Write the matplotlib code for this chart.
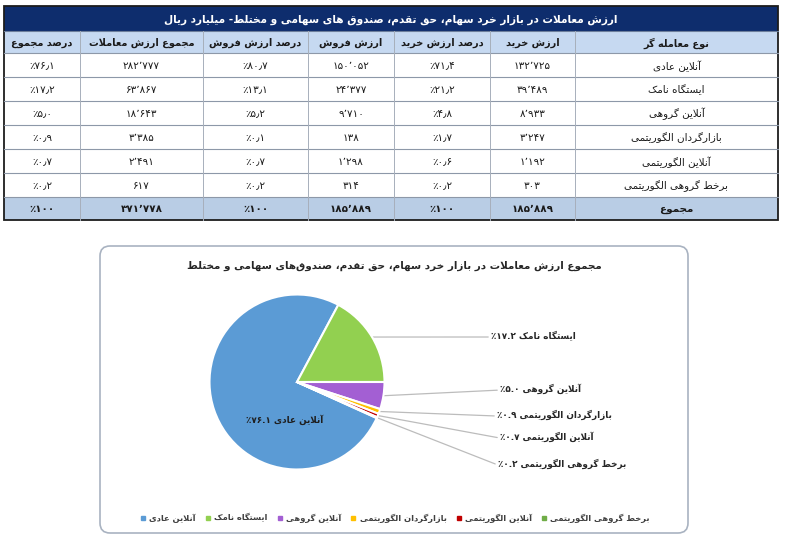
import numpy as np
import matplotlib
matplotlib.use('Agg')
import matplotlib.pyplot as plt
from matplotlib.patches import Rectangle, FancyBboxPatch
from matplotlib.lines import Line2D

plt.rcParams['font.family'] = ['DejaVu Sans']

# ---------------- data ----------------
table_title = 'ارزش معاملات در بازار خرد سهام، حق تقدم، صندوق های سهامی و مختلط- میلیارد ریال'
pie_title = 'مجموع ارزش معاملات در بازار خرد سهام، حق تقدم، صندوق\u200cهای سهامی و مختلط'

headers = ['نوع معامله گر', 'ارزش خرید', 'درصد ارزش خرید', 'ارزش فروش',
           'درصد ارزش فروش', 'مجموع ارزش معاملات', 'درصد مجموع']
names = ['آنلاین عادی', 'ایستگاه نامک', 'آنلاین گروهی', 'بازارگردان الگوریتمی',
         'آنلاین الگوریتمی', 'برخط گروهی الگوریتمی']
total_label = 'مجموع'

buy_val = [132725, 39489, 8933, 3247, 1192, 303]
buy_pct = [71.4, 21.2, 4.8, 1.7, 0.6, 0.2]
sell_val = [150052, 24377, 9710, 138, 1298, 314]
sell_pct = [80.7, 13.1, 5.2, 0.1, 0.7, 0.2]
total_val = [282777, 63867, 18643, 3385, 2491, 617]
total_pct = [76.1, 17.2, 5.0, 0.9, 0.7, 0.2]
sum_row = [185889, 100, 185889, 100, 371778, 100]   # buy, %, sell, %, total, %

pie_colors = ['#5b9bd5', '#92d050', '#a35fd3', '#ffc000', '#c00000', '#70ad47']

# ---------------- persian shaping (no bidi lib available) ----------------
FORMS = {
    'ء': ('\uFE80',),
    'آ': ('\uFE81', '\uFE82'), 'أ': ('\uFE83', '\uFE84'), 'ؤ': ('\uFE85', '\uFE86'),
    'إ': ('\uFE87', '\uFE88'), 'ئ': ('\uFE89', '\uFE8A', '\uFE8B', '\uFE8C'),
    'ا': ('\uFE8D', '\uFE8E'), 'ب': ('\uFE8F', '\uFE90', '\uFE91', '\uFE92'),
    'ة': ('\uFE93', '\uFE94'), 'ت': ('\uFE95', '\uFE96', '\uFE97', '\uFE98'),
    'ث': ('\uFE99', '\uFE9A', '\uFE9B', '\uFE9C'), 'ج': ('\uFE9D', '\uFE9E', '\uFE9F', '\uFEA0'),
    'ح': ('\uFEA1', '\uFEA2', '\uFEA3', '\uFEA4'), 'خ': ('\uFEA5', '\uFEA6', '\uFEA7', '\uFEA8'),
    'د': ('\uFEA9', '\uFEAA'), 'ذ': ('\uFEAB', '\uFEAC'), 'ر': ('\uFEAD', '\uFEAE'),
    'ز': ('\uFEAF', '\uFEB0'), 'س': ('\uFEB1', '\uFEB2', '\uFEB3', '\uFEB4'),
    'ش': ('\uFEB5', '\uFEB6', '\uFEB7', '\uFEB8'), 'ص': ('\uFEB9', '\uFEBA', '\uFEBB', '\uFEBC'),
    'ض': ('\uFEBD', '\uFEBE', '\uFEBF', '\uFEC0'), 'ط': ('\uFEC1', '\uFEC2', '\uFEC3', '\uFEC4'),
    'ظ': ('\uFEC5', '\uFEC6', '\uFEC7', '\uFEC8'), 'ع': ('\uFEC9', '\uFECA', '\uFECB', '\uFECC'),
    'غ': ('\uFECD', '\uFECE', '\uFECF', '\uFED0'), 'ف': ('\uFED1', '\uFED2', '\uFED3', '\uFED4'),
    'ق': ('\uFED5', '\uFED6', '\uFED7', '\uFED8'), 'ك': ('\uFED9', '\uFEDA', '\uFEDB', '\uFEDC'),
    'ل': ('\uFEDD', '\uFEDE', '\uFEDF', '\uFEE0'), 'م': ('\uFEE1', '\uFEE2', '\uFEE3', '\uFEE4'),
    'ن': ('\uFEE5', '\uFEE6', '\uFEE7', '\uFEE8'), 'ه': ('\uFEE9', '\uFEEA', '\uFEEB', '\uFEEC'),
    'و': ('\uFEED', '\uFEEE'), 'ي': ('\uFEF1', '\uFEF2', '\uFEF3', '\uFEF4'),
    'پ': ('\uFB56', '\uFB57', '\uFB58', '\uFB59'), 'چ': ('\uFB7A', '\uFB7B', '\uFB7C', '\uFB7D'),
    'ژ': ('\uFB8A', '\uFB8B'), 'ک': ('\uFB8E', '\uFB8F', '\uFB90', '\uFB91'),
    'گ': ('\uFB92', '\uFB93', '\uFB94', '\uFB95'), 'ی': ('\uFBFC', '\uFBFD', '\uFBFE', '\uFBFF'),
}
LAM_ALEF = {'آ': ('\uFEF5', '\uFEF6'), 'أ': ('\uFEF7', '\uFEF8'),
            'إ': ('\uFEF9', '\uFEFA'), 'ا': ('\uFEFB', '\uFEFC')}
DIGITS = set('0123456789۰۱۲۳۴۵۶۷۸۹')
SEPS = set('.,٫٬')


def joins_fwd(c):
    return c in FORMS and len(FORMS[c]) == 4


def shape(text):
    out, prev, i, n = [], None, 0, len(text)
    while i < n:
        c = text[i]
        if c not in FORMS:
            if c != '\u200c':
                out.append(c)
            prev = c
            i += 1
            continue
        link_prev = prev is not None and joins_fwd(prev)
        if c == 'ل' and i + 1 < n and text[i + 1] in LAM_ALEF:
            lig = LAM_ALEF[text[i + 1]]
            out.append(lig[1] if link_prev else lig[0])
            prev = text[i + 1]
            i += 2
            continue
        nxt = text[i + 1] if i + 1 < n else None
        link_next = joins_fwd(c) and nxt in FORMS and len(FORMS[nxt]) >= 2
        f = FORMS[c]
        if len(f) == 1:
            out.append(f[0])
        elif link_prev and link_next:
            out.append(f[3])
        elif link_prev:
            out.append(f[1])
        elif link_next:
            out.append(f[2])
        else:
            out.append(f[0])
        prev = c
        i += 1
    return ''.join(out)


def fa(text):
    s = shape(text)
    tokens, i = [], 0
    while i < len(s):
        if s[i] in DIGITS:
            j = i
            while j < len(s) and (s[j] in DIGITS or
                                  (s[j] in SEPS and j + 1 < len(s) and s[j + 1] in DIGITS)):
                j += 1
            tokens.append(s[i:j])
            i = j
        else:
            tokens.append(s[i])
            i += 1
    return ''.join(tokens[::-1])


FA_NUM = str.maketrans('0123456789', '۰۱۲۳۴۵۶۷۸۹')


def fa_int(v):
    return fa(f'{v:,}'.replace(',', '٬').translate(FA_NUM))


def fa_pct(v, sep='٫'):
    s = f'{v:.0f}' if v >= 100 else f'{v:.1f}'
    return fa(s.replace('.', sep).translate(FA_NUM) + '٪')


# ---------------- figure ----------------
fig = plt.figure(figsize=(7.86, 5.44), dpi=100)
ax = fig.add_axes([0, 0, 1, 1])
ax.set_xlim(0, 786)
ax.set_ylim(544, 0)
ax.axis('off')

# table layout (pixels)
col_x = [4, 80, 203, 308, 394, 490, 575, 778]
row_y = [53, 77, 101, 125, 149, 173, 197]
top, title_b, head_b, bottom = 6, 31, 53, 220
left, right = col_x[0], col_x[-1]

ax.add_patch(Rectangle((left, top), right - left, title_b - top, fc='#0e2d6d', ec='none'))
ax.add_patch(Rectangle((left, title_b), right - left, head_b - title_b, fc='#c6d9f1', ec='none'))
ax.add_patch(Rectangle((left, row_y[-1]), right - left, bottom - row_y[-1], fc='#b9cde5', ec='none'))
for y in row_y:
    ax.plot([left, right], [y, y], color='#8d98a8', lw=0.8)
ax.plot([left, right], [title_b, title_b], color='#6d7f9c', lw=0.8)
for x in col_x[1:-1]:
    ax.plot([x, x], [title_b, bottom], color='#a7afbb', lw=0.7)
ax.add_patch(Rectangle((left, top), right - left, bottom - top, fill=False, ec='#1c1c1c', lw=1.3))

ax.text((left + right) / 2, (top + title_b) / 2 + 1, fa(table_title), color='white',
        fontsize=7.6, fontweight='bold', ha='center', va='center')

# columns from left to right
columns = [
    (headers[6], [fa_pct(v) for v in total_pct], fa_pct(sum_row[5])),
    (headers[5], [fa_int(v) for v in total_val], fa_int(sum_row[4])),
    (headers[4], [fa_pct(v) for v in sell_pct], fa_pct(sum_row[3])),
    (headers[3], [fa_int(v) for v in sell_val], fa_int(sum_row[2])),
    (headers[2], [fa_pct(v) for v in buy_pct], fa_pct(sum_row[1])),
    (headers[1], [fa_int(v) for v in buy_val], fa_int(sum_row[0])),
    (headers[0], [fa(n) for n in names], fa(total_label)),
]
row_mid = [(row_y[i] + row_y[i + 1]) / 2 for i in range(len(row_y) - 1)]
for k, (head, cells, tot) in enumerate(columns):
    cx = (col_x[k] + col_x[k + 1]) / 2
    ax.text(cx, (title_b + head_b) / 2 + 1, fa(head), fontsize=7, fontweight='bold',
            color='#1a1a1a', ha='center', va='center')
    for y, s in zip(row_mid, cells):
        ax.text(cx, y + 1, s, fontsize=7.5, color='#1a1a1a', ha='center', va='center')
    ax.text(cx, (row_y[-1] + bottom) / 2 + 1, tot, fontsize=7.5, fontweight='bold',
            color='#1a1a1a', ha='center', va='center')

# pie chart box
ax.add_patch(FancyBboxPatch((100, 246), 588, 287, boxstyle='round,pad=0,rounding_size=10',
                            fc='white', ec='#a9b3c1', lw=1.2))
ax.text(394, 266, fa(pie_title), fontsize=7.5, fontweight='bold', color='#262626',
        ha='center', va='center')

R, pcx, pcy, lim = 87.5, 297, 382, 1.05
pax = fig.add_axes([(pcx - lim * R) / 786, 1 - (pcy + lim * R) / 544,
                    2 * lim * R / 786, 2 * lim * R / 544])
pax.set_zorder(2)
start = 360 * (total_val[0] + total_val[1]) / sum(total_val)
wedges, _ = pax.pie(total_val, colors=pie_colors, startangle=start, counterclock=False,
                    wedgeprops=dict(edgecolor='white', linewidth=1.5))
pax.set_xlim(-lim, lim)
pax.set_ylim(-lim, lim)
pax.axis('off')

pax.text(-0.14, -0.43, fa(names[0] + ' ' + f'{total_pct[0]:.1f}'.translate(FA_NUM) + '٪'),
         fontsize=6.4, fontweight='bold', color='#1f1f1f', ha='center', va='center')

label_pos = [None, (491, 336), (500, 389), (497, 415), (500, 437), (498, 464)]
for w, name, p, pos in zip(wedges, names, total_pct, label_pos):
    if pos is None:
        continue
    mid = np.deg2rad((w.theta1 + w.theta2) / 2)
    txt = fa(name + ' ' + f'{p:.1f}'.translate(FA_NUM) + '٪')
    ax.annotate(txt, xy=(np.cos(mid), np.sin(mid)), xycoords=pax.transData,
                xytext=pos, textcoords='data', ha='left', va='center',
                fontsize=6.4, fontweight='bold', color='#262626',
                arrowprops=dict(arrowstyle='-', color='#bcbcbc', lw=0.9,
                                shrinkA=0, shrinkB=0, relpos=(0, 0.4)))

handles = [Line2D([], [], ls='none', marker='s', ms=3.5, mfc=c, mec=c) for c in pie_colors]
fig.legend(handles, [fa(n) for n in names], loc='center', bbox_to_anchor=(395 / 786, 1 - 518 / 544),
           ncol=6, frameon=False, prop={'weight': 'bold', 'size': 6}, labelcolor='#404040',
           handletextpad=0.4, columnspacing=1.1, handlelength=0.7)

fig.savefig('out.png', dpi=100)
